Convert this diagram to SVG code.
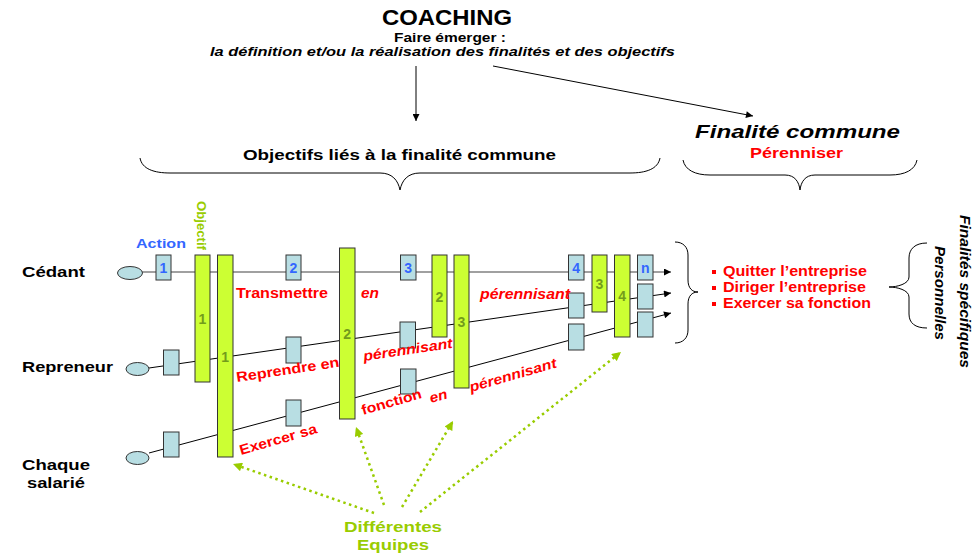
<svg xmlns="http://www.w3.org/2000/svg" width="977" height="554" viewBox="0 0 977 554">
<style>
text{font-family:"Liberation Sans",Arial,sans-serif;}
.b{font-weight:bold}
.bi{font-weight:bold;font-style:italic}
.red{fill:#ff0000;font-size:14px}
.bar{fill:#ccff33;stroke:#333;stroke-width:1}
.box{fill:#b8dee3;stroke:#333;stroke-width:1}
.ell{fill:#b8dee3;stroke:#333;stroke-width:1}
.bn{font-weight:bold;font-size:14px;fill:#739c1c;text-anchor:middle}
.an{font-weight:bold;font-size:14px;fill:#3366ff;text-anchor:middle}
.tl{fill:none;stroke:#000;stroke-width:1}
.dot{fill:none;stroke:#99cc00;stroke-width:2.5;stroke-dasharray:2.5 3.5}
.brace{fill:none;stroke:#000;stroke-width:1}
.lbl{font-weight:bold;font-size:15.5px;fill:#000}
</style>
<defs>
<marker id="ah" viewBox="0 0 10 10" refX="10" refY="5" markerWidth="8" markerHeight="7" markerUnits="userSpaceOnUse" orient="auto"><path d="M0,0L10,5L0,10z" fill="#000"/></marker>
<marker id="gh" viewBox="0 0 10 10" refX="10" refY="5" markerWidth="10" markerHeight="9" markerUnits="userSpaceOnUse" orient="auto"><path d="M0,0L10,5L0,10z" fill="#99cc00"/></marker>
</defs>
<rect width="977" height="554" fill="#fff"/>

<g id="title">
<text x="382" y="25" class="b" font-size="21.5" textLength="130" lengthAdjust="spacingAndGlyphs">COACHING</text>
<text x="450" y="41.5" class="b" font-size="12" text-anchor="middle" textLength="112" lengthAdjust="spacingAndGlyphs">Faire émerger :</text>
<text x="210" y="56" class="bi" font-size="13" textLength="465" lengthAdjust="spacingAndGlyphs">la définition et/ou la réalisation des finalités et des objectifs</text>
</g>

<g id="objectifs-communs">
<text x="243" y="160" class="b" font-size="15" textLength="313" lengthAdjust="spacingAndGlyphs">Objectifs liés à la finalité commune</text>
</g>

<g id="finalite-commune">
<text x="695" y="138" class="bi" font-size="18" textLength="205" lengthAdjust="spacingAndGlyphs">Finalité commune</text>
<text x="750" y="158" class="b" font-size="14" fill="#ff0000" textLength="93" lengthAdjust="spacingAndGlyphs">Pérenniser</text>
</g>

<g id="braces">
<path class="brace" d="M140,158 C142,169 154,173 170,173 L380,173 C392,173 398,180 400,190 C402,180 408,173 420,173 L630,173 C646,173 658,169 660,158"/>
<path class="brace" d="M683,160 C685,170 695,175 710,175 L785,175 C795,175 799,182 800,190 C801,182 805,175 815,175 L890,175 C905,175 915,170 917,160"/>
<path class="brace" d="M675,242 C683,242 688,247 688,255 L688,280 C688,288 692,292 698,292 C692,292 688,296 688,304 L688,330 C688,338 683,343 675,343"/>
<path class="brace" d="M927,243 C915,243 909,249 909,258 L909,277 C909,284 897,287 889,287 C897,287 909,290 909,297 L909,314 C909,323 915,328 927,328"/>
</g>

<g id="connectors">
<line class="tl" x1="416" y1="66" x2="416" y2="121" marker-end="url(#ah)"/>
<line class="tl" x1="493" y1="66" x2="753" y2="116" marker-end="url(#ah)"/>
<line x1="142" y1="272" x2="671" y2="272" stroke="#808080" stroke-width="1.5" marker-end="url(#ah)"/>
<line class="tl" x1="149" y1="368" x2="671" y2="293" marker-end="url(#ah)"/>
<line class="tl" x1="149" y1="453" x2="671" y2="313" marker-end="url(#ah)"/>
<line class="dot" x1="374" y1="513" x2="233" y2="464" marker-end="url(#gh)"/>
<line class="dot" x1="384" y1="505" x2="356" y2="427" marker-end="url(#gh)"/>
<line class="dot" x1="402" y1="507" x2="453" y2="421" marker-end="url(#gh)"/>
<line class="dot" x1="420" y1="512" x2="621" y2="352" marker-end="url(#gh)"/>
</g>

<g id="cedant">
<ellipse class="ell" cx="130" cy="273" rx="12.5" ry="6.5"/>
<text x="22" y="277" class="lbl" textLength="63" lengthAdjust="spacingAndGlyphs">Cédant</text>
</g>
<g id="repreneur">
<ellipse class="ell" cx="137.5" cy="369" rx="11.5" ry="6.5"/>
<text x="22" y="372" class="lbl" textLength="91" lengthAdjust="spacingAndGlyphs">Repreneur</text>
</g>
<g id="salarie">
<ellipse class="ell" cx="137.5" cy="458" rx="11.5" ry="6.5"/>
<text x="22" y="470" class="lbl" textLength="68" lengthAdjust="spacingAndGlyphs">Chaque</text>
<text x="27" y="488" class="lbl" textLength="58" lengthAdjust="spacingAndGlyphs">salarié</text>
</g>

<g id="legend">
<text x="136" y="248" class="b" font-size="13.5" fill="#3366ff" textLength="50" lengthAdjust="spacingAndGlyphs">Action</text>
<text transform="translate(197,201) rotate(90)" class="b" font-size="13" fill="#99cc00" textLength="49" lengthAdjust="spacingAndGlyphs">Objectif</text>
</g>

<g id="objectif-bars">
<g id="bar-1a"><rect class="bar" x="195" y="255" width="15" height="127"/><text class="bn" x="202.5" y="324">1</text></g>
<g id="bar-1b"><rect class="bar" x="217.5" y="255" width="15.5" height="202"/><text class="bn" x="225.2" y="362">1</text></g>
<g id="bar-2a"><rect class="bar" x="339.5" y="248" width="15.5" height="171"/><text class="bn" x="347.2" y="339">2</text></g>
<g id="bar-2b"><rect class="bar" x="432" y="255" width="15" height="82"/><text class="bn" x="439.5" y="302">2</text></g>
<g id="bar-3a"><rect class="bar" x="454" y="255" width="15" height="133"/><text class="bn" x="461.5" y="327">3</text></g>
<g id="bar-3b"><rect class="bar" x="592" y="255" width="15" height="57"/><text class="bn" x="599.5" y="289">3</text></g>
<g id="bar-4"><rect class="bar" x="614.5" y="255" width="15.5" height="82"/><text class="bn" x="622.2" y="301">4</text></g>
</g>

<g id="action-boxes">
<g id="box-c1"><rect class="box" x="156" y="255" width="15" height="25"/><text class="an" x="163.5" y="273">1</text></g>
<g id="box-c2"><rect class="box" x="286" y="255" width="15" height="25"/><text class="an" x="293.5" y="273">2</text></g>
<g id="box-c3"><rect class="box" x="400.5" y="255" width="15.5" height="25"/><text class="an" x="408.2" y="273">3</text></g>
<g id="box-c4"><rect class="box" x="568.5" y="255" width="15.5" height="25"/><text class="an" x="576.2" y="273">4</text></g>
<g id="box-cn"><rect class="box" x="637.5" y="255" width="15.5" height="25"/><text class="an" x="645.2" y="273">n</text></g>
<g id="box-r1"><rect class="box" x="163.5" y="350" width="15.5" height="25"/></g>
<g id="box-r2"><rect class="box" x="286" y="337" width="15" height="26"/></g>
<g id="box-r3"><rect class="box" x="400" y="322" width="15.5" height="26"/></g>
<g id="box-r4"><rect class="box" x="568.5" y="293" width="15.5" height="25"/></g>
<g id="box-rn"><rect class="box" x="637.5" y="284" width="15.5" height="25"/></g>
<g id="box-s1"><rect class="box" x="163.5" y="432" width="15.5" height="25"/></g>
<g id="box-s2"><rect class="box" x="286" y="400" width="15" height="26"/></g>
<g id="box-s3"><rect class="box" x="400.5" y="369" width="15.5" height="25"/></g>
<g id="box-s4"><rect class="box" x="568.5" y="324" width="15.5" height="26"/></g>
<g id="box-sn"><rect class="box" x="637.5" y="312" width="15.5" height="25"/></g>
</g>

<g id="red-labels">
<text x="236" y="298" class="b red" textLength="92" lengthAdjust="spacingAndGlyphs">Transmettre</text>
<text x="361" y="298" class="bi red" textLength="18" lengthAdjust="spacingAndGlyphs">en</text>
<text x="480" y="299" class="bi red" textLength="90" lengthAdjust="spacingAndGlyphs">pérennisant</text>
<text transform="translate(237,382) rotate(-8.5)" class="b red" textLength="104" lengthAdjust="spacingAndGlyphs">Reprendre en</text>
<text transform="translate(364,361) rotate(-8.5)" class="bi red" textLength="90" lengthAdjust="spacingAndGlyphs">pérennisant</text>
<text transform="translate(241,455) rotate(-16)" class="b red" textLength="80" lengthAdjust="spacingAndGlyphs">Exercer sa</text>
<text transform="translate(363,415) rotate(-16)" class="b red" textLength="62" lengthAdjust="spacingAndGlyphs">fonction</text>
<text transform="translate(431,403) rotate(-16)" class="bi red" textLength="18" lengthAdjust="spacingAndGlyphs">en</text>
<text transform="translate(471,392) rotate(-16)" class="bi red" textLength="90" lengthAdjust="spacingAndGlyphs">pérennisant</text>
</g>

<g id="finalites-personnelles">
<rect x="712" y="270" width="4" height="4" fill="#ff0000"/>
<rect x="712" y="286" width="4" height="4" fill="#ff0000"/>
<rect x="712" y="302" width="4" height="4" fill="#ff0000"/>
<text x="723" y="276" class="b red" textLength="144" lengthAdjust="spacingAndGlyphs">Quitter l’entreprise</text>
<text x="723" y="292" class="b red" textLength="143" lengthAdjust="spacingAndGlyphs">Diriger l’entreprise</text>
<text x="723" y="308" class="b red" textLength="148" lengthAdjust="spacingAndGlyphs">Exercer sa fonction</text>
</g>

<g id="finalites-specifiques">
<text transform="translate(960,215) rotate(90)" class="bi" font-size="15" textLength="153" lengthAdjust="spacingAndGlyphs">Finalités spécifiques</text>
<text transform="translate(935,246) rotate(90)" class="bi" font-size="15" textLength="94" lengthAdjust="spacingAndGlyphs">Personnelles</text>
</g>

<g id="equipes">
<text x="393" y="532" class="b" font-size="15.5" fill="#99cc00" text-anchor="middle" textLength="98" lengthAdjust="spacingAndGlyphs">Différentes</text>
<text x="393" y="550" class="b" font-size="15.5" fill="#99cc00" text-anchor="middle" textLength="72" lengthAdjust="spacingAndGlyphs">Equipes</text>
</g>
</svg>
